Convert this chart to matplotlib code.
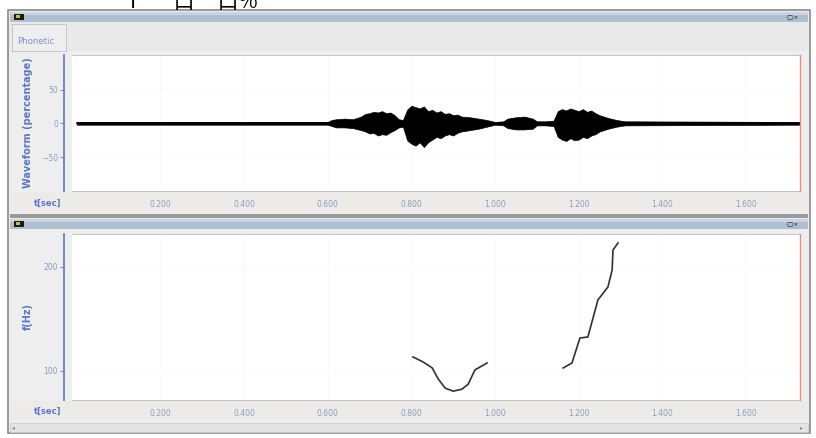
import matplotlib
matplotlib.use('Agg')
import matplotlib.pyplot as plt
from matplotlib.patches import Rectangle
import numpy as np

# waveform envelope (time in s, upper / lower edge in %)
wave_t = [0.00, 0.60, 0.61, 0.62, 0.64, 0.66, 0.68, 0.69, 0.70, 0.71, 0.72, 0.73,
          0.74, 0.75, 0.76, 0.77, 0.78, 0.79, 0.80, 0.81, 0.82, 0.83, 0.84, 0.85,
          0.86, 0.87, 0.88, 0.89, 0.90, 0.91, 0.92, 0.94, 0.96, 0.98, 1.00, 1.02,
          1.03, 1.05, 1.07, 1.09, 1.10, 1.12, 1.14, 1.15, 1.16, 1.17, 1.18, 1.19,
          1.20, 1.21, 1.22, 1.23, 1.24, 1.25, 1.27, 1.29, 1.31, 1.73]
wave_top = [2, 2, 5, 6, 7, 6, 10, 14, 15, 17, 16, 18,
            15, 16, 12, 6, 5, 20, 26, 24, 22, 25, 18, 20,
            16, 18, 14, 15, 12, 13, 10, 9, 7, 5, 2, 3,
            7, 9, 10, 7, 3, 3, 4, 18, 21, 19, 22, 20,
            18, 21, 17, 19, 15, 12, 8, 5, 3, 2]
wave_bot = [-2, -2, -4, -6, -6, -7, -10, -12, -15, -14, -18, -16,
            -17, -13, -10, -6, -5, -25, -30, -33, -28, -35, -28, -24,
            -20, -22, -18, -16, -18, -14, -12, -10, -8, -5, -2, -3,
            -7, -9, -9, -8, -3, -3, -4, -20, -24, -26, -22, -25,
            -24, -20, -22, -18, -16, -12, -8, -5, -3, -2]

# pitch contours (time in s, f in Hz)
f0_t1 = [0.804, 0.828, 0.850, 0.864, 0.881, 0.900, 0.921, 0.936, 0.952, 0.981]
f0_v1 = [113.2, 108.4, 102.6, 92.2, 83.2, 80.3, 82.2, 87.0, 100.7, 107.4]
f0_t2 = [1.163, 1.184, 1.203, 1.222, 1.246, 1.270, 1.280, 1.282, 1.294]
f0_v2 = [102.6, 107.4, 131.4, 132.4, 168.0, 180.5, 196.8, 216.0, 222.8]

time_ticks = [0.2, 0.4, 0.6, 0.8, 1.0, 1.2, 1.4, 1.6]
time_labels = ['0.200', '0.400', '0.600', '0.800', '1.000', '1.200', '1.400', '1.600']

W, H = 816, 438
fig = plt.figure(figsize=(W / 100, H / 100), dpi=100)
fig.patch.set_facecolor('white')


def box(x0, y0, x1, y1):
    return [x0 / W, 1 - y1 / H, (x1 - x0) / W, (y1 - y0) / H]


bg = fig.add_axes([0, 0, 1, 1])
bg.set_xlim(0, W)
bg.set_ylim(H, 0)
bg.axis('off')


def rect(x0, y0, x1, y1, fc, ec='none', lw=0.8):
    bg.add_patch(Rectangle((x0, y0), x1 - x0, y1 - y0, facecolor=fc, edgecolor=ec, lw=lw))


# window frame
rect(8, 10, 810, 433, '#ececec', '#8a8a8a', 1.2)
# title bars
for y0 in (12, 219):
    rect(10, y0, 808, y0 + 10, '#aebfd1')
    rect(10, y0, 808, y0 + 3, '#c6d3e0')
    rect(14, y0 + 2, 24, y0 + 8, '#1c1c10')
    rect(16, y0 + 3, 20, y0 + 6, '#c8c030')
    bg.text(786, y0 + 5.5, '-□×', fontsize=4.5, color='#202020', va='center', ha='left')
# tab row
rect(10, 22, 808, 51, '#e9e9e9')
rect(12, 24, 66, 51, '#eeeeee', '#c0c0c0', 0.6)
bg.text(17, 42, 'Phonetic', fontsize=6.2, color='#8090d0', va='center')
# gutters and time strips
rect(10, 52, 808, 214, '#eeeeee')
rect(10, 192, 808, 213, '#ecebe7')
rect(10, 214, 808, 218, '#9a9a9a')
rect(10, 230, 808, 421, '#eeeeee')
rect(10, 401, 808, 420, '#ecebe7')
rect(10, 423, 808, 432, '#e4e4e4', '#c8c8c8', 0.5)
bg.text(12, 428, '◂', fontsize=4, color='#808080', va='center')
bg.text(800, 428, '▸', fontsize=4, color='#808080', va='center')

# heading above the window, only its lower part shows
fig.text(130 / W, 1 - 8 / H, 'I*      口     口%', fontsize=15, color='black',
         va='baseline', ha='left', family=['Noto Sans CJK SC', 'DejaVu Sans'])

tick_col = '#8a9cc4'
axis_col = '#5878c8'


def style(ax):
    ax.set_facecolor('white')
    ax.set_axisbelow(True)
    for s in ('top', 'right', 'bottom'):
        ax.spines[s].set_color('#b8b8b8')
        ax.spines[s].set_linewidth(0.6)
    ax.spines['right'].set_color('#e89070')
    ax.spines['right'].set_linewidth(1.0)
    ax.spines['left'].set_position(('outward', 6))
    ax.spines['left'].set_color(axis_col)
    ax.spines['left'].set_linewidth(1.2)
    ax.set_xlim(-0.011, 1.729)
    ax.set_xticks(time_ticks)
    ax.set_xticklabels(time_labels)
    ax.tick_params(axis='x', length=0, pad=6.5, labelsize=5.5, labelcolor=tick_col)
    ax.tick_params(axis='y', length=3, width=0.6, color=axis_col, pad=1,
                   labelsize=5.5, labelcolor=tick_col)
    ax.grid(True, color='#ececec', lw=0.5, ls=':')
    ax.set_xlabel('t[sec]', fontsize=6, color=axis_col, fontweight='bold')
    ax.xaxis.set_label_coords(-0.033, -0.088)
    ax.xaxis.label.set_va('center')


# waveform panel
ax1 = fig.add_axes(box(72, 55, 800, 191))
style(ax1)
ax1.set_ylim(-100, 101)
ax1.set_yticks([-50, 0, 50])
ax1.fill_between(wave_t, wave_bot, wave_top, color='black', lw=0.5)
ax1.plot(wave_t, np.zeros(len(wave_t)), color='black', lw=1.1)
ax1.set_ylabel('Waveform (percentage)', fontsize=7, color=axis_col, fontweight='bold')
ax1.yaxis.set_label_coords(-0.06, 0.5)
ax1.yaxis.label.set_va('center')

# pitch panel
ax2 = fig.add_axes(box(72, 234, 800, 400))
style(ax2)
ax2.xaxis.set_label_coords(-0.033, -0.068)
ax2.set_ylim(71.8, 231.4)
ax2.set_yticks([100, 200])
ax2.plot(f0_t1, f0_v1, color='#303038', lw=1.2)
ax2.plot(f0_t2, f0_v2, color='#303038', lw=1.2)
ax2.set_ylabel('f(Hz)', fontsize=7, color=axis_col, fontweight='bold')
ax2.yaxis.set_label_coords(-0.06, 0.5)
ax2.yaxis.label.set_va('center')

fig.savefig('out.png', dpi=100)
